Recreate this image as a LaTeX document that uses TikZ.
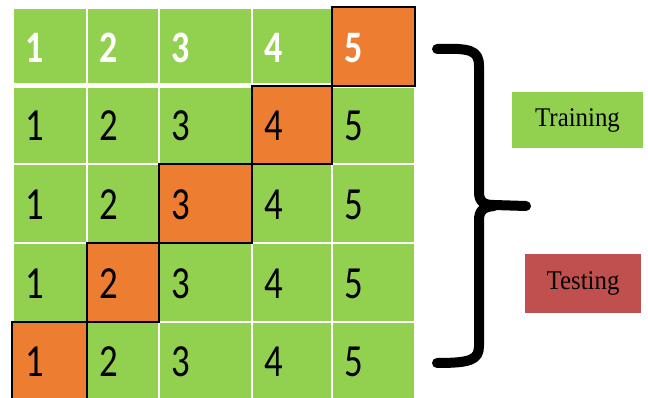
\documentclass[tikz,border=0pt]{standalone}
\usepackage{fontspec}
\usepackage{tikz}
\usepackage{xcolor}
\setmainfont[FakeStretch=0.92]{Liberation Serif}
\newfontfamily\digitfont[FakeStretch=0.8]{Carlito}
\definecolor{cvgreen}{HTML}{92D050}
\definecolor{cvorange}{HTML}{ED7D31}
\definecolor{cvred}{HTML}{C0504D}

\begin{document}
\begin{tikzpicture}[x=1pt,y=-1pt,
  greencell/.style={fill=cvgreen, draw=white, line width=1.6pt},
  orangecell/.style={fill=cvorange, draw=black, line width=1.6pt},
  digit/.style={font=\digitfont\fontsize{46}{46}\selectfont, text=black, inner sep=0pt},
  topdigit/.style={digit, font=\digitfont\bfseries\fontsize{45}{45}\selectfont, text=white},
  labelbox/.style={font=\fontsize{27}{28}\selectfont, text=black, inner sep=0pt}]
\useasboundingbox (0,0) rectangle (648,398);
\foreach \r/\ya/\yb in {1/8/84,2/87/164,3/164/243,4/243/322,5/322/399} {
  \foreach \c/\xa/\xb in {1/13/87,2/87/159,3/159/252,4/252/332,5/332/415} {
    \path[greencell] (\xa,\ya) rectangle (\xb,\yb);
  }
}
\foreach \c/\xa/\xb/\ya/\yb in {5/332/415/7/86,4/252/332/86/164,3/159/252/164/243,2/87/159/243/322,1/12/87/322/399} {
  \draw[orangecell] (\xa,\ya) rectangle (\xb,\yb);
}
\foreach \c/\xa in {1/13,2/87,3/159,4/252,5/332} {
  \node[topdigit] (d1\c) at ({\xa+22},48) {\c};
}
\foreach \r/\ya/\yb in {2/86/164,3/164/243,4/243/322,5/322/399} {
  \foreach \c/\xa in {1/13,2/87,3/159,4/252,5/332} {
    \node[digit] (d\r\c) at ({\xa+22},{(\ya+\yb)/2+1}) {\c};
  }
}
\draw[line width=10pt, line cap=round, line join=round]
  (437,49) .. controls (470,48) and (479,50) .. (479,66) -- (479,192)
  .. controls (479,202) and (484,205) .. (494,205) -- (526,206);
\draw[line width=10pt, line cap=round, line join=round]
  (494,206) .. controls (484,207) and (479,210) .. (479,220) -- (479,346)
  .. controls (479,360) and (470,363) .. (437,363);
\node[labelbox, fill=cvgreen, minimum width=131pt, minimum height=56pt] (train) at (577.5,120) {Training};
\node[labelbox, fill=cvred, minimum width=116pt, minimum height=59pt] (test) at (583,283.5) {Testing};
\end{tikzpicture}
\end{document}
